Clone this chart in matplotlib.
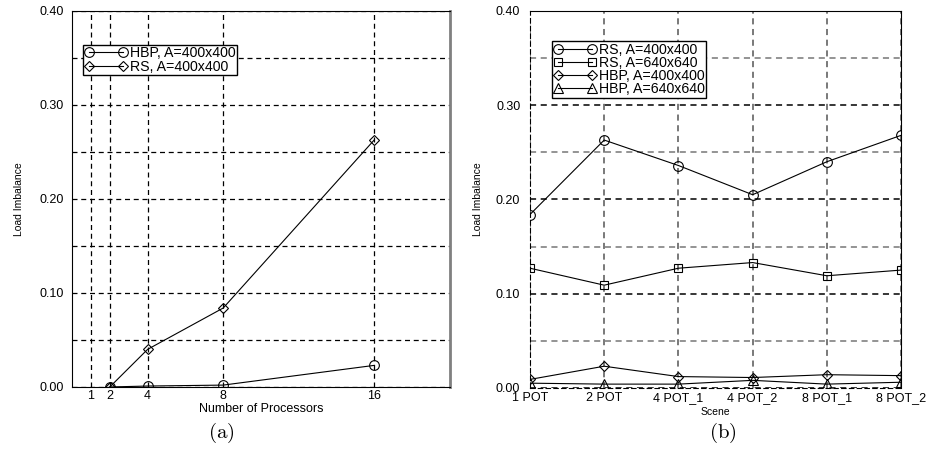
import matplotlib.pyplot as plt
import numpy as np

plt.rcParams['font.family'] = ['Liberation Sans', 'DejaVu Sans']
plt.rcParams['mathtext.fontset'] = 'cm'

# --- data: panel (a) ---
procs = [2, 4, 8, 16]
hbp_a = [0.000, 0.001, 0.002, 0.023]
rs_a = [0.000, 0.040, 0.084, 0.263]
proc_ticks = [1, 2, 4, 8, 16]

# --- data: panel (b) ---
scenes = ["1 POT", "2 POT", "4 POT_1", "4 POT_2", "8 POT_1", "8 POT_2"]
rs_400 = [0.184, 0.263, 0.236, 0.205, 0.240, 0.268]
rs_640 = [0.127, 0.109, 0.127, 0.133, 0.119, 0.125]
hbp_400 = [0.009, 0.023, 0.012, 0.011, 0.014, 0.013]
hbp_640 = [0.005, 0.004, 0.004, 0.008, 0.004, 0.006]

yticks = [0.0, 0.1, 0.2, 0.3, 0.4]
yminor = [0.05, 0.15, 0.25, 0.35]

fig = plt.figure(figsize=(9.29, 4.55), dpi=100)
ax1 = fig.add_axes([0.0775, 0.1495, 0.4069, 0.8264])
ax2 = fig.add_axes([0.5705, 0.1475, 0.3994, 0.8284])

dash = (0, (4, 3))
mk = dict(color='black', lw=0.8, markerfacecolor='none', markeredgecolor='black',
          markersize=7, markeredgewidth=0.8)
leg_kw = dict(fontsize=10.2, numpoints=2, handlelength=3.0, handletextpad=0.2,
              borderpad=0.1, labelspacing=-0.05, fancybox=False, edgecolor='black',
              framealpha=1, borderaxespad=0)

# Panel (a)
ax1.plot(procs, hbp_a, marker='o', label='HBP, A=400x400', **mk)
ax1.plot(procs, rs_a, marker='D', label='RS, A=400x400', **{**mk, 'markersize': 5.5})
ax1.set_xlim(0, 20)
ax1.set_ylim(0, 0.40)
ax1.set_xticks(proc_ticks)
ax1.set_yticks(yticks)
ax1.set_yticklabels([f"{v:.2f}" for v in yticks])
ax1.set_yticks(yminor, minor=True)
ax1.grid(True, which='both', color='black', linestyle=dash, lw=0.9)
ax1.set_xlabel('Number of Processors', fontsize=9, labelpad=1)
ax1.set_ylabel('Load Imbalance', fontsize=7.5)
ax1.yaxis.set_label_coords(-0.128, 0.5)
ax1.spines['right'].set_color('gray')
ax1.spines['right'].set_linewidth(2)
ax1.tick_params(which='both', length=0, labelsize=9)
ax1.tick_params(axis='y', pad=6)
ax1.tick_params(axis='x', pad=2)
ax1.legend(loc='upper left', bbox_to_anchor=(0.03, 0.91), **leg_kw)
fig.text(0.238, 0.048, r'$\mathrm{(a)}$', fontsize=15, ha='center', va='center')

# Panel (b)
xb = np.arange(len(scenes))
ax2.plot(xb, rs_400, marker='o', label='RS, A=400x400', **mk)
ax2.plot(xb, rs_640, marker='s', label='RS, A=640x640', **{**mk, 'markersize': 6})
ax2.plot(xb, hbp_400, marker='D', label='HBP, A=400x400', **{**mk, 'markersize': 5.5})
ax2.plot(xb, hbp_640, marker='^', label='HBP, A=640x640', **{**mk, 'markersize': 7})
ax2.set_xlim(0, len(scenes) - 1)
ax2.set_ylim(0, 0.40)
ax2.set_xticks(xb)
ax2.set_xticklabels(scenes)
ax2.set_yticks(yticks)
ax2.set_yticklabels([f"{v:.2f}" for v in yticks])
ax2.set_yticks(yminor, minor=True)
ax2.grid(True, which='major', axis='y', color='black', linestyle=dash, lw=1.1)
ax2.grid(True, which='minor', axis='y', color='#777777', linestyle=dash, lw=1.1)
ax2.grid(True, which='major', axis='x', color='#555555', linestyle=dash, lw=1.1)
ax2.set_xlabel('Scene', fontsize=7.5, labelpad=2)
ax2.set_ylabel('Load Imbalance', fontsize=7.5)
ax2.yaxis.set_label_coords(-0.127, 0.5)
ax2.spines['left'].set_linestyle(dash)
ax2.spines['bottom'].set_linestyle(dash)
ax2.tick_params(which='both', length=0, labelsize=9)
ax2.tick_params(axis='y', pad=7)
ax2.tick_params(axis='x', pad=3)
ax2.legend(loc='upper left', bbox_to_anchor=(0.06, 0.92), **leg_kw)
fig.text(0.778, 0.048, r'$\mathrm{(b)}$', fontsize=15, ha='center', va='center')

fig.savefig('out.png', dpi=100)
